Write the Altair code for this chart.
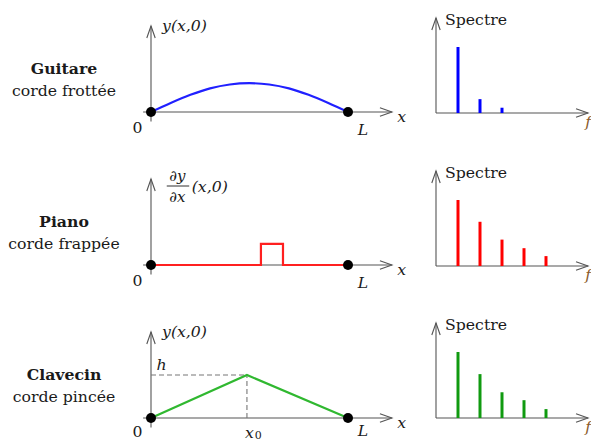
import altair as alt
import pandas as pd

# ---------------- data ----------------
row_titles = ["Guitare", "Piano", "Clavecin"]
row_subtitles = ["corde frottée", "corde frappée", "corde pincée"]
curve_colors = ["#2020ff", "#ff2020", "#30b830"]
spec_colors = ["#0000ff", "#ff0000", "#109a10"]
y_labels = ["y(x,0)", None, "y(x,0)"]

# initial shapes: x in units of L, y in units of h
guitare_x = [0, 0.1, 0.2, 0.3, 0.4, 0.5, 0.6, 0.7, 0.8, 0.9, 1.0]
guitare_y = [0, 0.21, 0.40, 0.55, 0.64, 0.67, 0.64, 0.55, 0.40, 0.21, 0]
piano_x = [0, 0.558, 0.558, 0.670, 0.670, 1.0]
piano_y = [0, 0, 0.49, 0.49, 0, 0]
clavecin_x = [0, 0.487, 1.0]
clavecin_y = [0, 1.0, 0]
x0_value = 0.487
h_value = 1.0

# spectra: harmonic rank and relative amplitude
harmonics = [1, 2, 3, 4, 5]
spec_guitare = [1.0, 0.21, 0.08]
spec_piano = [1.0, 0.67, 0.40, 0.27, 0.15]
spec_clavecin = [1.0, 0.665, 0.39, 0.27, 0.135]

signals = [(guitare_x, guitare_y), (piano_x, piano_y), (clavecin_x, clavecin_y)]
spectra = [spec_guitare, spec_piano, spec_clavecin]

# ---------------- layout ----------------
SIG_W, SPEC_W = 412, 171
ROW_H = [153, 153, 127]
SIG_OX, SIG_LPX, SIG_HPX, SIG_OY = 143, 197, 43, 104
SPEC_OX, SPEC_NPX, SPEC_APX = 16, 22, 66
SPEC_OY = [105, 105, 104]
LABEL_DROP = [0.0, 0.0, 0.05]   # last row sits at the page edge
L_DROP = [0.0, 0.0, 0.11]

AX = "#555555"
TXT = "#1a1a1a"
FONT = "DejaVu Serif"
ARROW = "M-1,-0.35L0,0L-1,0.35"


def text_layer(df, xs, ys, **kw):
    base = dict(font=FONT, fontSize=15.7, color=TXT, baseline="middle", align="center")
    base.update(kw)
    return alt.Chart(df).mark_text(**base).encode(
        x=alt.X("x:Q", scale=xs, axis=None),
        y=alt.Y("y:Q", scale=ys, axis=None),
        text="t:N",
    )


def signal_chart(i):
    H = ROW_H[i]
    xs = alt.Scale(domain=[-SIG_OX / SIG_LPX, (SIG_W - SIG_OX) / SIG_LPX], nice=False, zero=False)
    ys = alt.Scale(domain=[-(H - SIG_OY) / SIG_HPX, SIG_OY / SIG_HPX], nice=False, zero=False)
    X = lambda f="x": alt.X(f"{f}:Q", scale=xs, axis=None)
    Y = lambda f="y": alt.Y(f"{f}:Q", scale=ys, axis=None)
    d = LABEL_DROP[i]

    axes = pd.DataFrame({"x": [-0.04, 0], "x2": [1.223, 0], "y": [0, -0.22], "y2": [0, 2.0]})
    layers = [
        alt.Chart(axes).mark_rule(color=AX, strokeWidth=1.1).encode(
            x=X(), x2="x2:Q", y=Y(), y2="y2:Q"),
        alt.Chart(pd.DataFrame({"x": [1.223, 0], "y": [0, 2.0], "a": [0, 270]})).mark_point(
            shape=ARROW, size=576, filled=False, color=AX, strokeWidth=1.1, opacity=1).encode(
            x=X(), y=Y(), angle=alt.Angle("a:Q", scale=None)),
    ]
    if i == 2:
        dash = pd.DataFrame({"x": [0, x0_value], "x2": [x0_value, x0_value],
                             "y": [h_value, 0], "y2": [h_value, h_value]})
        layers.append(alt.Chart(dash).mark_rule(color="#777777", strokeWidth=1.1, strokeDash=[5, 3]).encode(
            x=X(), x2="x2:Q", y=Y(), y2="y2:Q"))
    sx, sy = signals[i]
    layers.append(alt.Chart(pd.DataFrame({"x": sx, "y": sy, "o": list(range(len(sx)))})).mark_line(
        color=curve_colors[i], strokeWidth=2.2,
        interpolate="monotone" if i == 0 else "linear").encode(x=X(), y=Y(), order="o:Q"))
    layers.append(alt.Chart(pd.DataFrame({"x": [0, 1.0], "y": [0, 0]})).mark_circle(
        size=100, color="black", opacity=1).encode(x=X(), y=Y()))

    # texts
    layers.append(text_layer(pd.DataFrame({"x": [-0.4416], "y": [0.99], "t": [row_titles[i]]}),
                             xs, ys, fontWeight="bold"))
    layers.append(text_layer(pd.DataFrame({"x": [-0.4416], "y": [0.49], "t": [row_subtitles[i]]}), xs, ys))
    layers.append(text_layer(pd.DataFrame({"x": [-0.068], "y": [-0.37 + d], "t": ["0"]}), xs, ys))
    layers.append(text_layer(pd.DataFrame({"x": [1.076, 1.2726], "y": [-0.42 + L_DROP[i], -0.11],
                                           "t": ["L", "x"]}),
                             xs, ys, fontStyle="italic"))
    if y_labels[i]:
        layers.append(text_layer(pd.DataFrame({"x": [0.056], "y": [2.0], "t": [y_labels[i]]}),
                                 xs, ys, align="left", fontStyle="italic"))
    if i == 1:
        layers.append(text_layer(pd.DataFrame({"x": [0.134, 0.134], "y": [2.08, 1.57], "t": ["∂y", "∂x"]}),
                                 xs, ys, fontStyle="italic", fontSize=15))
        layers.append(alt.Chart(pd.DataFrame({"x": [0.08], "x2": [0.194], "y": [1.837]})).mark_rule(
            color=TXT, strokeWidth=0.9).encode(x=X(), x2="x2:Q", y=Y()))
        layers.append(text_layer(pd.DataFrame({"x": [0.2066], "y": [1.814], "t": ["(x,0)"]}),
                                 xs, ys, align="left", fontStyle="italic"))
    if i == 2:
        layers.append(text_layer(pd.DataFrame({"x": [0.054], "y": [1.23], "t": ["h"]}),
                                 xs, ys, fontStyle="italic"))
        layers.append(text_layer(pd.DataFrame({"x": [0.499], "y": [-0.35], "t": ["x"]}),
                                 xs, ys, fontStyle="italic"))
        layers.append(text_layer(pd.DataFrame({"x": [0.545], "y": [-0.42], "t": ["0"]}),
                                 xs, ys, fontSize=11))
    return alt.layer(*layers).properties(width=SIG_W, height=H)


def spectrum_chart(i):
    H = ROW_H[i]
    oy = SPEC_OY[i]
    xs = alt.Scale(domain=[-SPEC_OX / SPEC_NPX, (SPEC_W - SPEC_OX) / SPEC_NPX], nice=False, zero=False)
    ys = alt.Scale(domain=[-(H - oy) / SPEC_APX, oy / SPEC_APX], nice=False, zero=False)
    X = lambda f="x": alt.X(f"{f}:Q", scale=xs, axis=None)
    Y = lambda f="y": alt.Y(f"{f}:Q", scale=ys, axis=None)

    axes = pd.DataFrame({"x": [0, 0], "x2": [6.91, 0], "y": [0, 0], "y2": [0, 1.44]})
    amps = spectra[i]
    bars = pd.DataFrame({"x": harmonics[:len(amps)], "y": [0] * len(amps), "y2": amps})
    layers = [
        alt.Chart(axes).mark_rule(color=AX, strokeWidth=1.1).encode(
            x=X(), x2="x2:Q", y=Y(), y2="y2:Q"),
        alt.Chart(pd.DataFrame({"x": [6.91, 0], "y": [0, 1.44], "a": [0, 270]})).mark_point(
            shape=ARROW, size=576, filled=False, color=AX, strokeWidth=1.1, opacity=1).encode(
            x=X(), y=Y(), angle=alt.Angle("a:Q", scale=None)),
        alt.Chart(bars).mark_rule(color=spec_colors[i], strokeWidth=3).encode(
            x=X(), y=Y(), y2="y2:Q"),
        text_layer(pd.DataFrame({"x": [0.41], "y": [1.41], "t": ["Spectre"]}), xs, ys, align="left"),
        text_layer(pd.DataFrame({"x": [7.045], "y": [-0.13], "t": ["f"]}), xs, ys, align="right",
                   fontStyle="italic", color="#8a5a2b", clip=True),
    ]
    return alt.layer(*layers).properties(width=SPEC_W, height=H)


panels = []
for i in range(3):
    panels += [signal_chart(i), spectrum_chart(i)]
chart = alt.concat(*panels, columns=2, spacing=0, bounds="flush").configure_view(
    stroke=None).properties(padding=0)

chart.save("out.html", embed_options={"renderer": "svg", "actions": False})
